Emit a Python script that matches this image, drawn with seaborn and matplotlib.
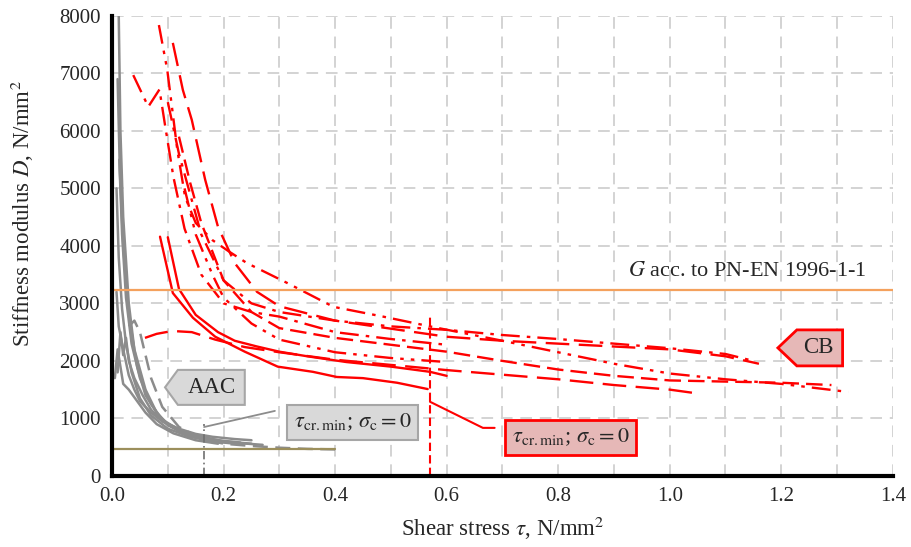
import numpy as np
import pandas as pd
import matplotlib
matplotlib.use("Agg")
import matplotlib.pyplot as plt
from matplotlib.patches import Polygon
from matplotlib.ticker import MultipleLocator
import seaborn as sns

# ---------------- data ----------------
# CB (red) curves: shear stress tau [N/mm2] vs stiffness modulus D [N/mm2]
cb_r1_x = [0.086, 0.109, 0.145, 0.185, 0.238, 0.297, 0.36, 0.403, 0.45, 0.511, 0.566]
cb_r1_y = [4160, 3180, 2750, 2420, 2160, 1900, 1810, 1720, 1700, 1620, 1510]
cb_r2_x = [0.10, 0.12, 0.15, 0.19, 0.22, 0.26, 0.30, 0.35, 0.42, 0.50, 0.57, 0.60]
cb_r2_y = [4150, 3250, 2800, 2500, 2350, 2250, 2160, 2080, 1980, 1900, 1810, 1740]
cb_r3_x = [0.059, 0.08, 0.108, 0.143, 0.185, 0.238, 0.30, 0.40, 0.50, 0.60, 0.70, 0.80, 0.90, 1.00, 1.045]
cb_r3_y = [2400, 2470, 2520, 2500, 2370, 2240, 2150, 2020, 1930, 1840, 1760, 1680, 1580, 1500, 1440]
cb_r4_x = [0.084, 0.099, 0.108, 0.117, 0.131, 0.15, 0.18, 0.21, 0.242, 0.313, 0.397, 0.486, 0.575,
           0.70, 0.80, 0.90, 1.00, 1.10, 1.20, 1.32]
cb_r4_y = [7840, 7060, 6370, 5670, 4850, 4400, 4100, 3900, 3700, 3360, 2940, 2770, 2590,
           2350, 2150, 1950, 1780, 1680, 1600, 1460]
cb_r5_x = [0.109, 0.127, 0.143, 0.167, 0.19, 0.22, 0.26, 0.30, 0.40, 0.50, 0.60, 0.70, 0.80, 0.90,
           1.00, 1.10, 1.16]
cb_r5_y = [7530, 6710, 6190, 5150, 4330, 3700, 3200, 2950, 2700, 2560, 2420, 2350, 2300, 2250,
           2200, 2080, 1950]
cb_r6_x = [0.038, 0.065, 0.085, 0.095, 0.11, 0.13, 0.16, 0.20, 0.25, 0.30, 0.40, 0.50, 0.60]
cb_r6_y = [6970, 6420, 6720, 6100, 5200, 4300, 3500, 3000, 2850, 2770, 2500, 2380, 2280]
cb_r7_x = [0.10, 0.12, 0.14, 0.16, 0.20, 0.25, 0.30, 0.40, 0.50, 0.60, 0.70, 0.80, 0.90, 1.00,
           1.10, 1.15]
cb_r7_y = [6500, 5600, 4900, 4200, 3400, 3000, 2850, 2700, 2600, 2540, 2450, 2380, 2300, 2220,
           2120, 2000]
cb_r8_x = [0.12, 0.14, 0.16, 0.18, 0.20, 0.25, 0.30, 0.40, 0.50, 0.60, 0.70, 0.80, 0.90, 1.00,
           1.10, 1.20, 1.29]
cb_r8_y = [5900, 5100, 4400, 3900, 3400, 2850, 2570, 2400, 2280, 2160, 2000, 1850, 1740, 1660,
           1640, 1620, 1580]
cb_r9_x = [0.13, 0.15, 0.18, 0.20, 0.25, 0.30, 0.40, 0.50, 0.60]
cb_r9_y = [5000, 4200, 3500, 3100, 2650, 2370, 2150, 2050, 1980]

# AAC (grey) curves
aac_g1_x = [0.012, 0.015, 0.02, 0.03, 0.04, 0.06, 0.08, 0.10, 0.13, 0.16, 0.20, 0.25]
aac_g1_y = [8000, 6000, 4500, 3000, 2200, 1500, 1100, 900, 760, 680, 600, 560]
aac_g2_x = [0.010, 0.014, 0.02, 0.03, 0.045, 0.06, 0.08, 0.10, 0.13, 0.17, 0.20, 0.27]
aac_g2_y = [6900, 5300, 4000, 2800, 1900, 1400, 1100, 880, 740, 640, 590, 540]
aac_g3_x = [0.013, 0.018, 0.025, 0.035, 0.05, 0.07, 0.09, 0.12, 0.15, 0.19, 0.23]
aac_g3_y = [5500, 4200, 3100, 2300, 1700, 1250, 980, 800, 700, 620, 580]
aac_g4_x = [0.008, 0.012, 0.018, 0.025, 0.035, 0.05, 0.07, 0.10, 0.14, 0.18, 0.22]
aac_g4_y = [5000, 3800, 2900, 2300, 1800, 1350, 1050, 820, 680, 600, 560]
aac_g5_x = [0.010, 0.015, 0.02, 0.025, 0.03, 0.04, 0.055, 0.07, 0.09, 0.12, 0.16, 0.21]
aac_g5_y = [1800, 2500, 2100, 2400, 2000, 1700, 1400, 1150, 950, 780, 650, 580]
aac_g6_x = [0.005, 0.01, 0.015, 0.02, 0.03, 0.045, 0.06, 0.08, 0.11, 0.15, 0.19]
aac_g6_y = [1700, 2200, 1900, 1600, 1500, 1300, 1100, 900, 740, 620, 560]
aac_g7_x = [0.008, 0.012, 0.02, 0.03, 0.04, 0.05, 0.07, 0.09, 0.12, 0.15, 0.18, 0.22, 0.25]
aac_g7_y = [3200, 2600, 2200, 1750, 1500, 1300, 1100, 950, 820, 730, 680, 640, 620]
aac_g8_x = [0.03, 0.04, 0.05, 0.06, 0.07, 0.09, 0.12, 0.16, 0.20, 0.25, 0.30, 0.35, 0.40]
aac_g8_y = [2600, 2700, 2500, 2100, 1700, 1200, 850, 650, 560, 520, 490, 470, 460]

# reference lines
g_pnen = 3230          # G acc. to PN-EN 1996-1-1
aac_g_level = 470      # AAC reference level
aac_g_xmax = 0.40
tau_cr_aac = 0.165
tau_cr_cb = 0.57
tau_cr_aac_top = 900
tau_cr_cb_top = 2800

x_ticks = [0.0, 0.2, 0.4, 0.6, 0.8, 1.0, 1.2, 1.4]
y_ticks = [0, 1000, 2000, 3000, 4000, 5000, 6000, 7000, 8000]

# ---------------- style ----------------
sns.set_theme(style="white")
plt.rcParams["font.family"] = ["Liberation Serif", "DejaVu Serif"]
plt.rcParams["mathtext.fontset"] = "stix"

fig = plt.figure(figsize=(9.11, 5.47), dpi=100)
ax = fig.add_axes([0.123, 0.130, 0.857, 0.841])

RED = "#FF0000"
GREY = "#8C8C8C"

# grid
ax.set_xlim(0, 1.4)
ax.set_ylim(0, 8000)
ax.xaxis.set_major_locator(MultipleLocator(0.2))
ax.xaxis.set_minor_locator(MultipleLocator(0.1))
ax.yaxis.set_major_locator(MultipleLocator(1000))
ax.grid(True, which="both", axis="x", color="#D3D3D3", linestyle=(0, (6, 4)), linewidth=1.4)
ax.grid(True, which="major", axis="y", color="#D3D3D3", linestyle=(0, (6, 4)), linewidth=1.4)
ax.set_axisbelow(True)

# AAC curves
aac = [(aac_g1_x, aac_g1_y, "-"), (aac_g2_x, aac_g2_y, "-"), (aac_g3_x, aac_g3_y, "-"),
       (aac_g4_x, aac_g4_y, "-"), (aac_g5_x, aac_g5_y, "-"), (aac_g6_x, aac_g6_y, "-"),
       (aac_g7_x, aac_g7_y, "-"), (aac_g8_x, aac_g8_y, (0, (6, 3)))]
for xs, ys, ls in aac:
    sns.lineplot(x=xs, y=ys, ax=ax, sort=False, estimator=None, color=GREY, linewidth=1.8)
    ax.lines[-1].set_linestyle(ls)

# reference horizontal lines
sns.lineplot(x=[0, aac_g_xmax], y=[aac_g_level, aac_g_level], ax=ax, color="#9C8F5C", linewidth=1.6)
ax.axhline(g_pnen, color="#F4A15D", linewidth=1.6, zorder=3)

# CB curves
dash = (0, (7, 3))
ldash = (0, (10, 4))
dashdot = (0, (8, 3, 1.5, 3))
dashdotdot = (0, (8, 3, 1.5, 3, 1.5, 3))
cb = [(cb_r1_x, cb_r1_y, "-"), (cb_r2_x, cb_r2_y, "-"), (cb_r3_x, cb_r3_y, ldash),
      (cb_r4_x, cb_r4_y, dashdotdot), (cb_r5_x, cb_r5_y, ldash), (cb_r6_x, cb_r6_y, dashdot),
      (cb_r7_x, cb_r7_y, dashdot), (cb_r8_x, cb_r8_y, dash), (cb_r9_x, cb_r9_y, dashdotdot)]
for xs, ys, ls in cb:
    sns.lineplot(x=xs, y=ys, ax=ax, sort=False, estimator=None, color=RED, linewidth=1.7)
    ax.lines[-1].set_linestyle(ls)

# tau_cr vertical lines
ax.plot([tau_cr_cb, tau_cr_cb], [0, tau_cr_cb_top], color=RED, linewidth=1.5,
        linestyle=(0, (4, 2)), zorder=4)
ax.plot([tau_cr_aac, tau_cr_aac], [0, tau_cr_aac_top], color="#707070", linewidth=1.2,
        linestyle=(0, (5, 2, 1, 2)), zorder=4)

# ---------------- annotations ----------------
# AAC arrow box
aac_poly = Polygon([[0.095, 1540], [0.118, 1843], [0.238, 1843], [0.238, 1235], [0.118, 1235]],
                   closed=True, facecolor="#D9D9D9", edgecolor="#A6A6A6", linewidth=1.5, zorder=6)
ax.add_patch(aac_poly)
ax.text(0.179, 1540, "AAC", ha="center", va="center", fontsize=16.5, zorder=7)

# CB arrow box
cb_poly = Polygon([[1.194, 2226], [1.228, 2539], [1.31, 2539], [1.31, 1913], [1.228, 1913]],
                  closed=True, facecolor="#E6B8B7", edgecolor=RED, linewidth=2, zorder=6)
ax.add_patch(cb_poly)
ax.text(1.267, 2226, "CB", ha="center", va="center", fontsize=16.5, zorder=7)

tau_text = r"$\tau_{\mathrm{cr.min}}$; $\sigma_{\mathrm{c}} = 0$"
# grey tau box + leader
ax.plot([tau_cr_aac, 0.292], [850, 1130], color="#8C8C8C", linewidth=1.3, zorder=5)
ax.text(0.431, 930, tau_text, ha="center", va="center", fontsize=16, zorder=7,
        bbox=dict(boxstyle="square,pad=0.3", facecolor="#D9D9D9", edgecolor="#A6A6A6", linewidth=1.5))
# red tau box + leader
ax.plot([tau_cr_cb, 0.665, 0.686], [1290, 835, 835], color=RED, linewidth=1.5, zorder=5)
ax.text(0.822, 670, tau_text, ha="center", va="center", fontsize=16, zorder=7,
        bbox=dict(boxstyle="square,pad=0.3", facecolor="#E6B8B7", edgecolor=RED, linewidth=2))

ax.text(1.352, 3560, r"$G$ acc. to PN-EN 1996-1-1", ha="right", va="center", fontsize=16)

# axes
ax.set_xticks(x_ticks)
ax.set_xticklabels([f"{t:.1f}" for t in x_ticks])
ax.set_yticks(y_ticks)
ax.set_yticklabels([str(t) for t in y_ticks])
ax.tick_params(axis="both", labelsize=15, length=0, pad=8)
ax.set_xlabel(r"Shear stress $\tau$, N/mm$^2$", fontsize=16.5, labelpad=6)
ax.set_ylabel(r"Stiffness modulus $D$, N/mm$^2$", fontsize=16.5)
ax.yaxis.set_label_coords(-0.098, 0.57)
for s in ["top", "right"]:
    ax.spines[s].set_visible(False)
for s in ["left", "bottom"]:
    ax.spines[s].set_color("black")
    ax.spines[s].set_linewidth(3)
    ax.spines[s].set_zorder(8)

fig.savefig("out.png", dpi=100)
